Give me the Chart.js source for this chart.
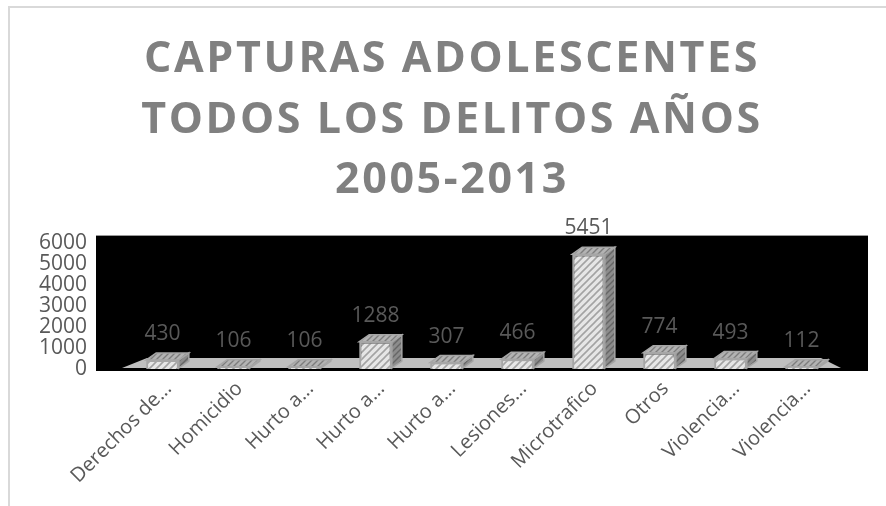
<!DOCTYPE html>
<html><head><meta charset="utf-8">
<script src="https://cdn.jsdelivr.net/npm/chart.js@4/dist/chart.umd.min.js"></script>
<style>
html,body{margin:0;padding:0;background:#fff;width:886px;height:506px;overflow:hidden;}
#frame{position:absolute;left:8px;top:6px;right:0;bottom:0;border-top:2px solid #d9d9d9;border-left:2px solid #d9d9d9;}
canvas{position:absolute;left:0;top:0;}
</style></head><body>
<div id="frame"></div>
<canvas id="c" width="886" height="506"></canvas>
<script>
const categories = ['Derechos de...','Homicidio','Hurto a...','Hurto a...','Hurto a...','Lesiones...','Microtrafico','Otros','Violencia...','Violencia...'];
const capturas = [430,106,106,1288,307,466,5451,774,493,112];
const yMin = 0, yMax = 6000, yStep = 1000;
const titleLines = ['CAPTURAS ADOLESCENTES','TODOS LOS DELITOS AÑOS','2005-2013'];

const canvas = document.getElementById('c');
const ctx0 = canvas.getContext('2d');
function makeHatch(bg, fg, size, lw){
  const t = document.createElement('canvas'); t.width = t.height = size;
  const x = t.getContext('2d');
  x.fillStyle = bg; x.fillRect(0,0,size,size);
  x.strokeStyle = fg; x.lineWidth = lw;
  x.beginPath();
  x.moveTo(0,size); x.lineTo(size,0);
  x.moveTo(-size/2,size/2); x.lineTo(size/2,-size/2);
  x.moveTo(size/2,size*1.5); x.lineTo(size*1.5,size/2);
  x.stroke();
  return ctx0.createPattern(t,'repeat');
}
const frontPat = makeHatch('#e6e6e6','#a3a3a3',7,1.6);
const topPat = makeHatch('#b3b3b3','#7d7d7d',6,1.4);
const sidePat = makeHatch('#8c8c8c','#666666',6,1.4);

const scene = {
  id:'scene',
  beforeDraw(chart){
    const {ctx, chartArea:a} = chart;
    ctx.save();
    ctx.fillStyle = '#000';
    ctx.fillRect(a.left-31, a.top-7, a.right-a.left+62, a.bottom-a.top+9);
    ctx.restore();
    ctx.letterSpacing = '2.6px';
  },
  beforeDatasetsDraw(chart){
    const {ctx, chartArea:a} = chart;
    ctx.letterSpacing = '0px';
    ctx.save();
    ctx.fillStyle = '#bfbfbf';
    ctx.beginPath();
    ctx.moveTo(a.left-5, a.bottom-1);
    ctx.lineTo(a.left+20, a.bottom-11);
    ctx.lineTo(a.right-16, a.bottom-11);
    ctx.lineTo(a.right+4, a.bottom-1);
    ctx.closePath();
    ctx.fill();
    ctx.restore();
  },
  afterDatasetsDraw(chart){
    const {ctx} = chart;
    const meta = chart.getDatasetMeta(0);
    const dx = 10, dy = 7;
    ctx.save();
    meta.data.forEach((bar,i)=>{
      const p = bar.getProps(['x','y','width','base'], true);
      const l = p.x - p.width/2, r = p.x + p.width/2;
      ctx.fillStyle = sidePat; ctx.strokeStyle = '#a6a6a6'; ctx.lineWidth = 1.5;
      ctx.beginPath();
      ctx.moveTo(r, p.y); ctx.lineTo(r+dx, p.y-dy); ctx.lineTo(r+dx, p.base-dy-1); ctx.lineTo(r, p.base-1);
      ctx.closePath(); ctx.fill(); ctx.stroke();
      ctx.fillStyle = topPat;
      ctx.beginPath();
      ctx.moveTo(l, p.y); ctx.lineTo(r, p.y); ctx.lineTo(r+dx, p.y-dy); ctx.lineTo(l+dx, p.y-dy);
      ctx.closePath(); ctx.fill(); ctx.stroke();
      ctx.fillStyle = '#595959';
      ctx.font = '21px "Open Sans"';
      ctx.textAlign = 'center'; ctx.textBaseline = 'middle';
      ctx.fillText(String(capturas[i]), p.x, p.y - 26);
    });
    ctx.restore();
  }
};

new Chart(canvas, {
  type:'bar',
  data:{labels:categories, datasets:[{
    data:capturas,
    backgroundColor:frontPat,
    borderColor:'#a6a6a6',
    borderWidth:2,
    categoryPercentage:1,
    barPercentage:0.46
  }]},
  options:{
    responsive:false,
    animation:false,
    layout:{padding:{left:18,right:0,top:0,bottom:0}},
    plugins:{
      legend:{display:false},
      tooltip:{enabled:false},
      title:{display:true, text:titleLines, color:'#808080',
        font:{family:'"Open Sans"', weight:'bold', size:43, lineHeight:1.4},
        padding:{top:30,bottom:32}}
    },
    scales:{
      x:{
        grid:{display:false}, border:{display:false},
        ticks:{color:'#595959', font:{family:'"Open Sans"', size:20}, minRotation:45, maxRotation:45, autoSkip:false, padding:0, labelOffset:6, z:1},
        afterFit(s){ s.height = 137; }
      },
      y:{
        min:yMin, max:yMax,
        grid:{display:false}, border:{display:false},
        ticks:{stepSize:yStep, autoSkip:false, color:'#595959', font:{family:'"Open Sans"', size:21}, padding:32, z:1,
          callback:(v)=>String(v)},
        afterFit(s){ s.width = 109; }
      },
      y2:{
        position:'right', display:true,
        grid:{display:false}, border:{display:false},
        ticks:{display:false},
        afterFit(s){ s.width = 49; }
      }
    }
  },
  plugins:[scene]
});
</script>
</body></html>
